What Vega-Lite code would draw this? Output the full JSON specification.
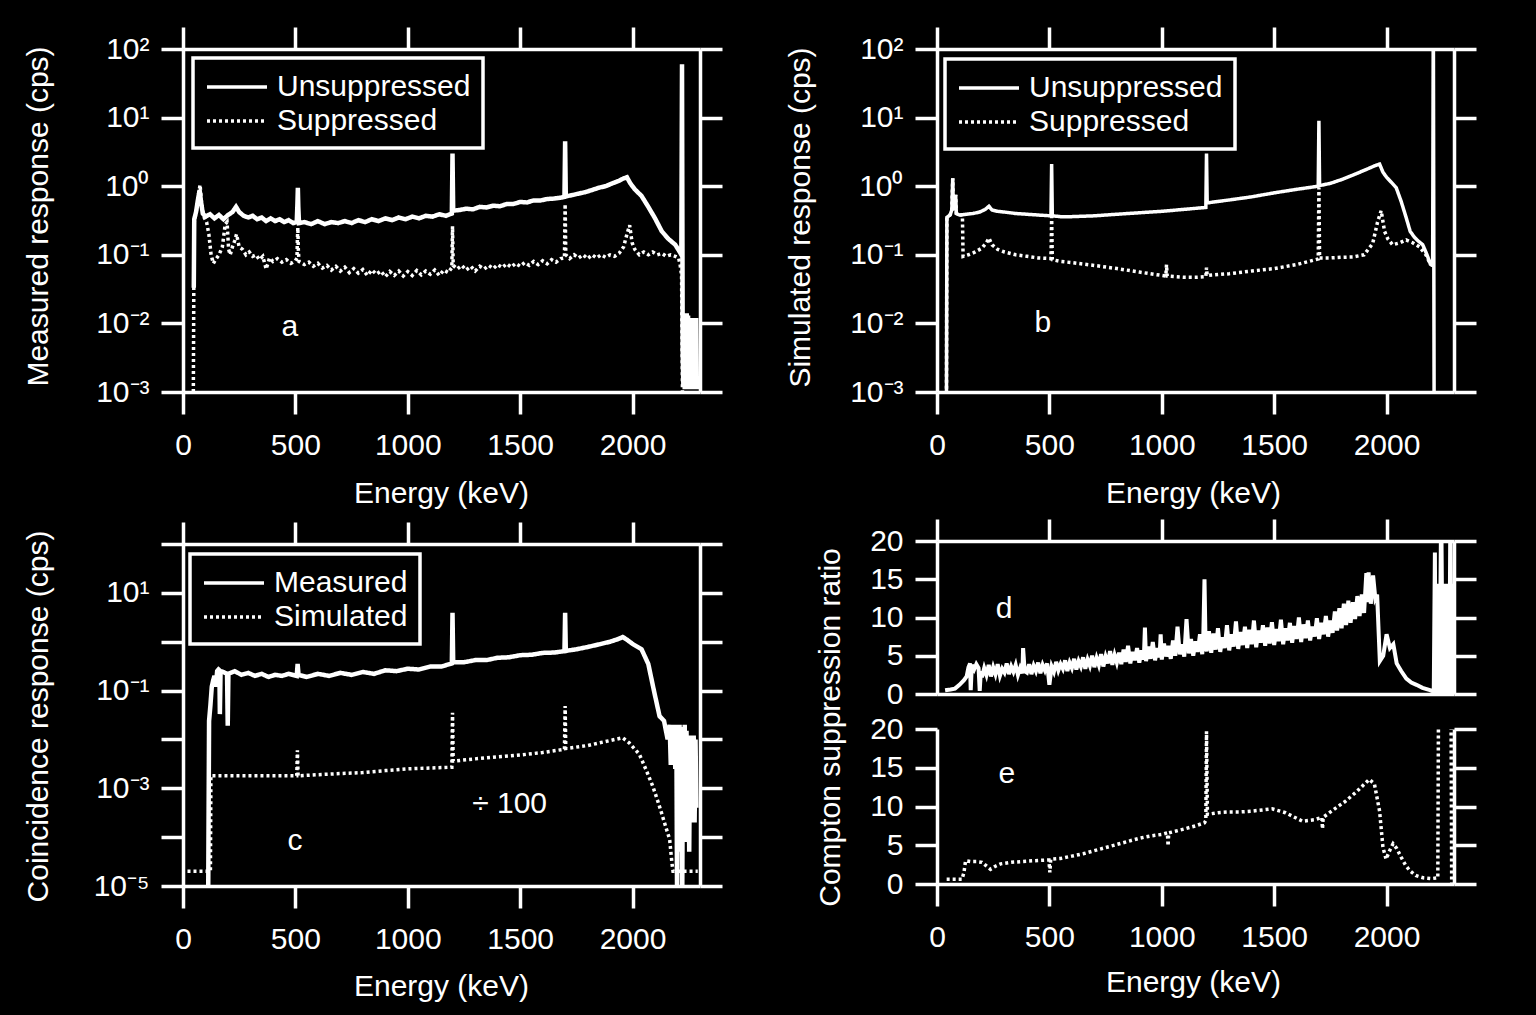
{
"$schema":"https://vega.github.io/schema/vega-lite/v6.json",
"background":"black",
"padding":{"left":23,"top":25,"right":58,"bottom":15},
"datasets":{
"aU":[{"E":48,"v":0.033},{"E":50,"v":0.33},{"E":58,"v":0.42},{"E":66,"v":0.62},{"E":74,"v":0.88},{"E":80,"v":0.6},{"E":88,"v":0.4},{"E":100,"v":0.36},{"E":120,"v":0.39},{"E":140,"v":0.34},{"E":160,"v":0.38},{"E":180,"v":0.33},{"E":200,"v":0.38},{"E":220,"v":0.42},{"E":236,"v":0.5},{"E":250,"v":0.42},{"E":270,"v":0.37},{"E":290,"v":0.35},{"E":310,"v":0.37},{"E":330,"v":0.33},{"E":350,"v":0.35},{"E":370,"v":0.31},{"E":390,"v":0.34},{"E":410,"v":0.31},{"E":430,"v":0.33},{"E":450,"v":0.3},{"E":470,"v":0.32},{"E":490,"v":0.29},{"E":506,"v":0.3},{"E":509,"v":0.55},{"E":511,"v":0.95},{"E":513,"v":0.5},{"E":516,"v":0.29},{"E":540,"v":0.3},{"E":570,"v":0.28},{"E":600,"v":0.31},{"E":630,"v":0.28},{"E":660,"v":0.3},{"E":690,"v":0.29},{"E":720,"v":0.31},{"E":750,"v":0.29},{"E":780,"v":0.32},{"E":810,"v":0.3},{"E":840,"v":0.33},{"E":870,"v":0.31},{"E":900,"v":0.34},{"E":930,"v":0.32},{"E":960,"v":0.35},{"E":990,"v":0.33},{"E":1020,"v":0.36},{"E":1050,"v":0.34},{"E":1080,"v":0.37},{"E":1110,"v":0.36},{"E":1140,"v":0.39},{"E":1170,"v":0.37},{"E":1196,"v":0.4},{"E":1199,"v":3.0},{"E":1202,"v":0.44},{"E":1230,"v":0.45},{"E":1260,"v":0.47},{"E":1290,"v":0.46},{"E":1320,"v":0.5},{"E":1350,"v":0.49},{"E":1380,"v":0.52},{"E":1410,"v":0.51},{"E":1440,"v":0.55},{"E":1470,"v":0.55},{"E":1500,"v":0.59},{"E":1530,"v":0.58},{"E":1560,"v":0.62},{"E":1590,"v":0.62},{"E":1620,"v":0.65},{"E":1650,"v":0.66},{"E":1680,"v":0.68},{"E":1697,"v":0.7},{"E":1700,"v":4.5},{"E":1703,"v":0.71},{"E":1730,"v":0.74},{"E":1760,"v":0.78},{"E":1790,"v":0.82},{"E":1820,"v":0.88},{"E":1850,"v":0.95},{"E":1880,"v":1.0},{"E":1910,"v":1.1},{"E":1940,"v":1.2},{"E":1960,"v":1.3},{"E":1975,"v":1.35},{"E":1990,"v":1.1},{"E":2010,"v":0.9},{"E":2040,"v":0.72},{"E":2070,"v":0.5},{"E":2100,"v":0.34},{"E":2130,"v":0.22},{"E":2160,"v":0.17},{"E":2190,"v":0.14},{"E":2210,"v":0.11},{"E":2217,"v":0.1},{"E":2220,"v":60},{"E":2223,"v":0.004},{"E":2226,"v":0.0012},{"E":2229,"v":0.006},{"E":2232,"v":0.0011},{"E":2235,"v":0.012},{"E":2238,"v":0.0012},{"E":2241,"v":0.014},{"E":2244,"v":0.0013},{"E":2247,"v":0.013},{"E":2250,"v":0.0011},{"E":2253,"v":0.012},{"E":2256,"v":0.0012},{"E":2259,"v":0.012},{"E":2262,"v":0.0011},{"E":2265,"v":0.012},{"E":2268,"v":0.0012},{"E":2271,"v":0.012},{"E":2274,"v":0.0011},{"E":2277,"v":0.012},{"E":2280,"v":0.0012},{"E":2283,"v":0.012},{"E":2286,"v":0.0011}],
"aS":[{"E":46,"v":0.001},{"E":48,"v":0.03},{"E":50,"v":0.3},{"E":60,"v":0.45},{"E":70,"v":0.8},{"E":76,"v":1.05},{"E":82,"v":0.6},{"E":92,"v":0.36},{"E":105,"v":0.3},{"E":115,"v":0.2},{"E":125,"v":0.1},{"E":135,"v":0.075},{"E":145,"v":0.085},{"E":160,"v":0.1},{"E":175,"v":0.13},{"E":188,"v":0.28},{"E":196,"v":0.3},{"E":203,"v":0.12},{"E":210,"v":0.1},{"E":220,"v":0.13},{"E":230,"v":0.16},{"E":238,"v":0.2},{"E":250,"v":0.13},{"E":265,"v":0.12},{"E":280,"v":0.1},{"E":295,"v":0.11},{"E":310,"v":0.095},{"E":325,"v":0.1},{"E":340,"v":0.085},{"E":355,"v":0.095},{"E":370,"v":0.062},{"E":385,"v":0.09},{"E":400,"v":0.08},{"E":420,"v":0.088},{"E":440,"v":0.078},{"E":460,"v":0.085},{"E":480,"v":0.075},{"E":500,"v":0.082},{"E":507,"v":0.09},{"E":509,"v":0.17},{"E":511,"v":0.25},{"E":513,"v":0.12},{"E":516,"v":0.08},{"E":540,"v":0.072},{"E":560,"v":0.078},{"E":580,"v":0.068},{"E":600,"v":0.075},{"E":620,"v":0.064},{"E":640,"v":0.07},{"E":660,"v":0.06},{"E":680,"v":0.068},{"E":700,"v":0.058},{"E":720,"v":0.066},{"E":740,"v":0.055},{"E":760,"v":0.063},{"E":780,"v":0.054},{"E":800,"v":0.061},{"E":820,"v":0.05},{"E":840,"v":0.06},{"E":860,"v":0.052},{"E":880,"v":0.058},{"E":900,"v":0.048},{"E":920,"v":0.057},{"E":940,"v":0.05},{"E":960,"v":0.058},{"E":980,"v":0.049},{"E":1000,"v":0.057},{"E":1020,"v":0.05},{"E":1040,"v":0.059},{"E":1060,"v":0.051},{"E":1080,"v":0.058},{"E":1100,"v":0.052},{"E":1120,"v":0.06},{"E":1140,"v":0.05},{"E":1160,"v":0.06},{"E":1180,"v":0.055},{"E":1196,"v":0.065},{"E":1199,"v":0.26},{"E":1202,"v":0.07},{"E":1220,"v":0.062},{"E":1240,"v":0.07},{"E":1260,"v":0.06},{"E":1280,"v":0.068},{"E":1300,"v":0.058},{"E":1320,"v":0.068},{"E":1340,"v":0.062},{"E":1360,"v":0.07},{"E":1380,"v":0.063},{"E":1400,"v":0.072},{"E":1420,"v":0.065},{"E":1440,"v":0.074},{"E":1460,"v":0.066},{"E":1480,"v":0.075},{"E":1500,"v":0.068},{"E":1520,"v":0.077},{"E":1540,"v":0.07},{"E":1560,"v":0.08},{"E":1580,"v":0.072},{"E":1600,"v":0.082},{"E":1620,"v":0.074},{"E":1640,"v":0.085},{"E":1660,"v":0.078},{"E":1680,"v":0.088},{"E":1697,"v":0.09},{"E":1700,"v":0.55},{"E":1703,"v":0.1},{"E":1720,"v":0.088},{"E":1740,"v":0.1},{"E":1760,"v":0.09},{"E":1780,"v":0.1},{"E":1800,"v":0.088},{"E":1820,"v":0.1},{"E":1840,"v":0.09},{"E":1860,"v":0.1},{"E":1880,"v":0.092},{"E":1900,"v":0.1},{"E":1920,"v":0.095},{"E":1940,"v":0.105},{"E":1960,"v":0.13},{"E":1975,"v":0.2},{"E":1987,"v":0.27},{"E":1998,"v":0.15},{"E":2010,"v":0.12},{"E":2030,"v":0.1},{"E":2050,"v":0.11},{"E":2070,"v":0.1},{"E":2090,"v":0.11},{"E":2110,"v":0.1},{"E":2130,"v":0.105},{"E":2150,"v":0.095},{"E":2170,"v":0.1},{"E":2190,"v":0.095},{"E":2205,"v":0.09},{"E":2212,"v":0.07},{"E":2218,"v":0.05},{"E":2222,"v":0.001}],
"bU":[{"E":42,"v":0.0005},{"E":44,"v":0.35},{"E":58,"v":0.38},{"E":66,"v":0.45},{"E":70,"v":1.3},{"E":73,"v":0.45},{"E":80,"v":0.5},{"E":83,"v":0.75},{"E":86,"v":0.4},{"E":100,"v":0.38},{"E":130,"v":0.39},{"E":160,"v":0.4},{"E":190,"v":0.42},{"E":215,"v":0.46},{"E":231,"v":0.51},{"E":245,"v":0.45},{"E":270,"v":0.43},{"E":300,"v":0.42},{"E":350,"v":0.4},{"E":400,"v":0.39},{"E":450,"v":0.38},{"E":507,"v":0.37},{"E":510,"v":2.1},{"E":513,"v":0.37},{"E":550,"v":0.36},{"E":600,"v":0.36},{"E":700,"v":0.37},{"E":800,"v":0.39},{"E":900,"v":0.41},{"E":1000,"v":0.43},{"E":1100,"v":0.46},{"E":1196,"v":0.49},{"E":1199,"v":3.0},{"E":1202,"v":0.57},{"E":1250,"v":0.6},{"E":1300,"v":0.63},{"E":1400,"v":0.7},{"E":1500,"v":0.8},{"E":1600,"v":0.9},{"E":1696,"v":1.0},{"E":1699,"v":9},{"E":1702,"v":1.02},{"E":1750,"v":1.1},{"E":1800,"v":1.25},{"E":1850,"v":1.45},{"E":1900,"v":1.7},{"E":1950,"v":2.0},{"E":1969,"v":2.1},{"E":1984,"v":1.6},{"E":2000,"v":1.35},{"E":2020,"v":1.15},{"E":2043,"v":0.95},{"E":2065,"v":0.6},{"E":2087,"v":0.35},{"E":2105,"v":0.22},{"E":2124,"v":0.18},{"E":2140,"v":0.16},{"E":2161,"v":0.14},{"E":2180,"v":0.1},{"E":2195,"v":0.073},{"E":2205,"v":0.07},{"E":2208,"v":500},{"E":2212,"v":0.0001}],
"bS":[{"E":42,"v":0.0005},{"E":44,"v":0.35},{"E":58,"v":0.38},{"E":66,"v":0.45},{"E":70,"v":1.3},{"E":73,"v":0.45},{"E":80,"v":0.5},{"E":83,"v":0.75},{"E":86,"v":0.4},{"E":100,"v":0.38},{"E":113,"v":0.38},{"E":116,"v":0.095},{"E":140,"v":0.1},{"E":170,"v":0.11},{"E":200,"v":0.125},{"E":220,"v":0.15},{"E":231,"v":0.175},{"E":245,"v":0.14},{"E":270,"v":0.12},{"E":300,"v":0.11},{"E":350,"v":0.1},{"E":400,"v":0.095},{"E":450,"v":0.09},{"E":507,"v":0.088},{"E":510,"v":0.36},{"E":513,"v":0.085},{"E":550,"v":0.08},{"E":600,"v":0.077},{"E":700,"v":0.07},{"E":800,"v":0.063},{"E":900,"v":0.056},{"E":1000,"v":0.05},{"E":1018,"v":0.049},{"E":1021,"v":0.072},{"E":1024,"v":0.049},{"E":1100,"v":0.047},{"E":1150,"v":0.047},{"E":1196,"v":0.048},{"E":1199,"v":0.065},{"E":1202,"v":0.05},{"E":1300,"v":0.053},{"E":1400,"v":0.058},{"E":1500,"v":0.063},{"E":1600,"v":0.072},{"E":1696,"v":0.087},{"E":1699,"v":0.95},{"E":1702,"v":0.09},{"E":1750,"v":0.09},{"E":1800,"v":0.092},{"E":1850,"v":0.093},{"E":1900,"v":0.1},{"E":1938,"v":0.145},{"E":1960,"v":0.3},{"E":1976,"v":0.44},{"E":1991,"v":0.22},{"E":2006,"v":0.17},{"E":2027,"v":0.14},{"E":2060,"v":0.15},{"E":2087,"v":0.165},{"E":2116,"v":0.15},{"E":2147,"v":0.13},{"E":2175,"v":0.1},{"E":2195,"v":0.073},{"E":2205,"v":0.07}],
"cM":[{"E":112,"v":0.000005},{"E":116,"v":0.024},{"E":122,"v":0.05},{"E":128,"v":0.12},{"E":134,"v":0.16},{"E":140,"v":0.2},{"E":146,"v":0.12},{"E":152,"v":0.25},{"E":158,"v":0.27},{"E":162,"v":0.26},{"E":164,"v":0.033},{"E":167,"v":0.25},{"E":180,"v":0.24},{"E":196,"v":0.22},{"E":199,"v":0.019},{"E":202,"v":0.22},{"E":230,"v":0.25},{"E":260,"v":0.21},{"E":290,"v":0.23},{"E":320,"v":0.2},{"E":350,"v":0.22},{"E":380,"v":0.19},{"E":410,"v":0.21},{"E":440,"v":0.2},{"E":470,"v":0.22},{"E":506,"v":0.2},{"E":510,"v":0.35},{"E":514,"v":0.21},{"E":550,"v":0.19},{"E":600,"v":0.22},{"E":650,"v":0.2},{"E":700,"v":0.23},{"E":750,"v":0.21},{"E":800,"v":0.24},{"E":850,"v":0.22},{"E":900,"v":0.26},{"E":950,"v":0.25},{"E":1000,"v":0.28},{"E":1050,"v":0.27},{"E":1100,"v":0.31},{"E":1150,"v":0.31},{"E":1196,"v":0.36},{"E":1199,"v":3.9},{"E":1202,"v":0.38},{"E":1250,"v":0.38},{"E":1300,"v":0.42},{"E":1350,"v":0.42},{"E":1400,"v":0.47},{"E":1450,"v":0.48},{"E":1500,"v":0.53},{"E":1550,"v":0.54},{"E":1600,"v":0.59},{"E":1650,"v":0.6},{"E":1697,"v":0.64},{"E":1700,"v":3.9},{"E":1703,"v":0.65},{"E":1750,"v":0.7},{"E":1800,"v":0.78},{"E":1850,"v":0.88},{"E":1900,"v":1.0},{"E":1940,"v":1.15},{"E":1956,"v":1.25},{"E":1975,"v":1.1},{"E":2000,"v":0.9},{"E":2040,"v":0.7},{"E":2070,"v":0.35},{"E":2095,"v":0.1},{"E":2120,"v":0.03},{"E":2140,"v":0.024},{"E":2156,"v":0.01},{"E":2165,"v":0.02},{"E":2170,"v":0.003},{"E":2175,"v":0.018},{"E":2180,"v":0.003},{"E":2185,"v":0.02},{"E":2190,"v":0.0025},{"E":2195,"v":0.015},{"E":2198,"v":0.000005},{"E":2201,"v":0.02},{"E":2205,"v":0.0001},{"E":2209,"v":0.02},{"E":2213,"v":0.00005},{"E":2217,"v":0.018},{"E":2221,"v":0.000005},{"E":2224,"v":0.015},{"E":2228,"v":0.0002},{"E":2232,"v":0.02},{"E":2236,"v":0.00008},{"E":2240,"v":0.015},{"E":2244,"v":0.0003},{"E":2248,"v":0.012},{"E":2252,"v":0.00005},{"E":2256,"v":0.012},{"E":2260,"v":0.0002},{"E":2264,"v":0.01},{"E":2268,"v":0.0003},{"E":2272,"v":0.012},{"E":2276,"v":0.0002},{"E":2280,"v":0.01},{"E":2284,"v":0.0004}],
"cS":[{"E":20,"v":0.00002},{"E":122,"v":0.00002},{"E":124,"v":0.0018},{"E":200,"v":0.0018},{"E":300,"v":0.0018},{"E":400,"v":0.0018},{"E":506,"v":0.0018},{"E":509,"v":0.006},{"E":512,"v":0.0018},{"E":600,"v":0.0019},{"E":700,"v":0.002},{"E":800,"v":0.0021},{"E":900,"v":0.0023},{"E":1000,"v":0.0025},{"E":1100,"v":0.0026},{"E":1196,"v":0.0027},{"E":1199,"v":0.035},{"E":1202,"v":0.0036},{"E":1300,"v":0.004},{"E":1400,"v":0.0044},{"E":1500,"v":0.0048},{"E":1600,"v":0.0054},{"E":1697,"v":0.0063},{"E":1700,"v":0.048},{"E":1703,"v":0.0065},{"E":1800,"v":0.0075},{"E":1900,"v":0.0095},{"E":1956,"v":0.0108},{"E":1985,"v":0.0085},{"E":2030,"v":0.005},{"E":2060,"v":0.0024},{"E":2090,"v":0.0011},{"E":2115,"v":0.0005},{"E":2130,"v":0.0003},{"E":2150,"v":0.00015},{"E":2165,"v":0.00009},{"E":2175,"v":0.00003},{"E":2180,"v":0.00002},{"E":2290,"v":0.00002}],
"d":[{"E":36,"v":0.5},{"E":60,"v":0.6},{"E":80,"v":0.7},{"E":100,"v":1.2},{"E":120,"v":1.8},{"E":132,"v":2.3},{"E":140,"v":3.5},{"E":147,"v":4.0},{"E":150,"v":0.5},{"E":155,"v":3.8},{"E":165,"v":3.2},{"E":175,"v":3.9},{"E":185,"v":3.4},{"E":190,"v":0.4},{"E":195,"v":3.0},{"E":200,"v":2.2},{"E":210,"v":3.4},{"E":220,"v":2.5},{"E":230,"v":3.8},{"E":240,"v":2.3},{"E":250,"v":3.5},{"E":260,"v":2.6},{"E":270,"v":3.9},{"E":280,"v":2.4},{"E":290,"v":3.3},{"E":300,"v":2.8},{"E":310,"v":4.0},{"E":320,"v":2.6},{"E":330,"v":3.6},{"E":340,"v":2.9},{"E":350,"v":3.8},{"E":360,"v":2.5},{"E":370,"v":3.4},{"E":380,"v":2.7},{"E":383,"v":6.0},{"E":390,"v":3.0},{"E":400,"v":2.8},{"E":410,"v":3.9},{"E":420,"v":2.6},{"E":430,"v":3.7},{"E":440,"v":3.0},{"E":450,"v":4.1},{"E":460,"v":2.7},{"E":470,"v":3.8},{"E":480,"v":3.1},{"E":490,"v":4.0},{"E":500,"v":1.2},{"E":510,"v":3.6},{"E":520,"v":2.9},{"E":530,"v":4.2},{"E":540,"v":3.1},{"E":550,"v":3.9},{"E":560,"v":3.3},{"E":570,"v":4.4},{"E":580,"v":3.0},{"E":590,"v":4.1},{"E":600,"v":3.4},{"E":610,"v":4.6},{"E":620,"v":3.2},{"E":630,"v":4.3},{"E":640,"v":3.6},{"E":650,"v":4.8},{"E":660,"v":3.3},{"E":670,"v":4.5},{"E":680,"v":3.7},{"E":690,"v":5.0},{"E":700,"v":3.5},{"E":710,"v":4.7},{"E":720,"v":3.8},{"E":730,"v":5.2},{"E":740,"v":3.6},{"E":750,"v":4.9},{"E":760,"v":4.0},{"E":770,"v":5.6},{"E":780,"v":3.8},{"E":790,"v":5.1},{"E":800,"v":4.1},{"E":810,"v":5.4},{"E":820,"v":3.9},{"E":830,"v":5.8},{"E":840,"v":4.2},{"E":850,"v":6.3},{"E":860,"v":4.0},{"E":870,"v":5.5},{"E":880,"v":4.4},{"E":890,"v":6.0},{"E":900,"v":4.1},{"E":910,"v":5.7},{"E":920,"v":4.5},{"E":925,"v":8.7},{"E":930,"v":4.3},{"E":940,"v":6.2},{"E":950,"v":4.6},{"E":960,"v":6.8},{"E":970,"v":4.4},{"E":980,"v":6.0},{"E":990,"v":4.8},{"E":995,"v":7.8},{"E":1000,"v":4.5},{"E":1010,"v":6.6},{"E":1020,"v":4.9},{"E":1030,"v":6.3},{"E":1040,"v":4.6},{"E":1050,"v":7.0},{"E":1060,"v":5.0},{"E":1070,"v":8.8},{"E":1080,"v":5.2},{"E":1090,"v":6.5},{"E":1100,"v":4.9},{"E":1110,"v":9.8},{"E":1120,"v":5.3},{"E":1130,"v":7.2},{"E":1140,"v":5.0},{"E":1150,"v":6.9},{"E":1160,"v":5.5},{"E":1170,"v":7.8},{"E":1180,"v":5.2},{"E":1185,"v":8.0},{"E":1190,"v":15.0},{"E":1195,"v":6.0},{"E":1200,"v":5.6},{"E":1210,"v":8.2},{"E":1220,"v":5.4},{"E":1230,"v":7.9},{"E":1240,"v":5.8},{"E":1250,"v":8.6},{"E":1260,"v":5.5},{"E":1270,"v":7.4},{"E":1280,"v":6.0},{"E":1290,"v":9.0},{"E":1300,"v":5.7},{"E":1310,"v":7.8},{"E":1320,"v":6.2},{"E":1330,"v":9.5},{"E":1340,"v":5.9},{"E":1350,"v":8.1},{"E":1360,"v":6.4},{"E":1370,"v":8.8},{"E":1380,"v":6.0},{"E":1390,"v":8.4},{"E":1400,"v":6.5},{"E":1410,"v":9.6},{"E":1420,"v":6.1},{"E":1430,"v":8.3},{"E":1440,"v":6.7},{"E":1450,"v":9.0},{"E":1460,"v":6.3},{"E":1470,"v":8.7},{"E":1480,"v":6.6},{"E":1490,"v":9.4},{"E":1500,"v":6.4},{"E":1510,"v":8.5},{"E":1520,"v":6.9},{"E":1530,"v":9.7},{"E":1540,"v":6.5},{"E":1550,"v":8.6},{"E":1560,"v":7.0},{"E":1570,"v":9.3},{"E":1580,"v":6.7},{"E":1590,"v":8.9},{"E":1600,"v":7.2},{"E":1610,"v":10.0},{"E":1620,"v":6.8},{"E":1630,"v":9.1},{"E":1640,"v":7.3},{"E":1650,"v":9.6},{"E":1660,"v":7.0},{"E":1670,"v":8.8},{"E":1680,"v":7.5},{"E":1690,"v":9.9},{"E":1700,"v":7.2},{"E":1710,"v":9.3},{"E":1720,"v":7.8},{"E":1730,"v":10.2},{"E":1740,"v":7.5},{"E":1750,"v":9.6},{"E":1760,"v":8.0},{"E":1770,"v":10.8},{"E":1780,"v":8.3},{"E":1790,"v":11.2},{"E":1800,"v":8.6},{"E":1810,"v":11.8},{"E":1820,"v":9.0},{"E":1830,"v":12.2},{"E":1840,"v":9.3},{"E":1850,"v":12.0},{"E":1860,"v":9.8},{"E":1870,"v":12.8},{"E":1880,"v":10.2},{"E":1890,"v":13.0},{"E":1900,"v":10.6},{"E":1910,"v":15.8},{"E":1915,"v":12.0},{"E":1920,"v":15.9},{"E":1930,"v":11.8},{"E":1940,"v":15.5},{"E":1950,"v":12.5},{"E":1958,"v":13.0},{"E":1970,"v":4.3},{"E":1985,"v":5.0},{"E":2000,"v":7.8},{"E":2015,"v":6.0},{"E":2030,"v":6.5},{"E":2045,"v":4.0},{"E":2065,"v":3.0},{"E":2088,"v":2.0},{"E":2110,"v":1.5},{"E":2133,"v":1.2},{"E":2160,"v":0.8},{"E":2193,"v":0.5},{"E":2210,"v":0.3},{"E":2215,"v":18.5},{"E":2218,"v":0.2},{"E":2222,"v":14.4},{"E":2225,"v":0.1},{"E":2228,"v":14.4},{"E":2231,"v":0.1},{"E":2234,"v":14.4},{"E":2237,"v":0.1},{"E":2240,"v":14.4},{"E":2243,"v":25},{"E":2246,"v":14.4},{"E":2249,"v":0.1},{"E":2252,"v":14.4},{"E":2255,"v":0.1},{"E":2258,"v":14.4},{"E":2261,"v":0.1},{"E":2264,"v":14.4},{"E":2267,"v":0.1},{"E":2270,"v":14.4},{"E":2273,"v":0.1},{"E":2276,"v":14.4},{"E":2279,"v":0.1},{"E":2282,"v":14.4},{"E":2284,"v":25},{"E":2286,"v":14.4},{"E":2289,"v":0.1},{"E":2292,"v":14.4},{"E":2295,"v":0.1}],
"e":[{"E":43,"v":0.6},{"E":80,"v":0.6},{"E":111,"v":0.6},{"E":120,"v":1.5},{"E":127,"v":3.0},{"E":150,"v":2.9},{"E":175,"v":2.9},{"E":200,"v":2.8},{"E":238,"v":1.9},{"E":260,"v":2.3},{"E":283,"v":2.6},{"E":330,"v":2.8},{"E":380,"v":2.9},{"E":430,"v":3.0},{"E":498,"v":3.1},{"E":502,"v":1.5},{"E":506,"v":3.2},{"E":550,"v":3.3},{"E":600,"v":3.6},{"E":650,"v":3.9},{"E":700,"v":4.3},{"E":750,"v":4.7},{"E":800,"v":5.1},{"E":850,"v":5.5},{"E":900,"v":5.9},{"E":950,"v":6.2},{"E":1000,"v":6.4},{"E":1025,"v":6.6},{"E":1028,"v":4.9},{"E":1031,"v":6.6},{"E":1060,"v":6.8},{"E":1100,"v":7.1},{"E":1150,"v":7.5},{"E":1190,"v":7.9},{"E":1196,"v":8.2},{"E":1199,"v":19.7},{"E":1203,"v":9.0},{"E":1250,"v":9.2},{"E":1300,"v":9.3},{"E":1350,"v":9.3},{"E":1400,"v":9.4},{"E":1491,"v":9.7},{"E":1550,"v":9.2},{"E":1626,"v":8.1},{"E":1680,"v":8.3},{"E":1712,"v":8.6},{"E":1715,"v":7.1},{"E":1718,"v":8.6},{"E":1760,"v":9.5},{"E":1818,"v":10.7},{"E":1870,"v":12.0},{"E":1923,"v":13.5},{"E":1946,"v":12.9},{"E":1969,"v":9.4},{"E":1984,"v":4.7},{"E":1998,"v":3.2},{"E":2012,"v":4.2},{"E":2029,"v":5.2},{"E":2045,"v":4.6},{"E":2066,"v":3.4},{"E":2085,"v":2.4},{"E":2104,"v":1.7},{"E":2130,"v":1.1},{"E":2163,"v":0.8},{"E":2200,"v":0.7},{"E":2228,"v":0.8},{"E":2232,"v":30},{"E":2286,"v":30},{"E":2290,"v":-2}]
},
"resolve":{"scale":{"strokeDash":"independent"}},
"spacing":61,
"hconcat":[
{"vconcat":[
{"width":517,"height":343,
"layer":[
{"data":{"name":"aU"},"mark":{"type":"line","clip":true,"color":"white","strokeWidth":4.5},
"encoding":{
"x":{"field":"E","type":"quantitative","scale":{"domain":[0,2300]},"axis":{"orient":"bottom","values":[0,500,1000,1500,2000],"format":"d","title":"Energy (keV)","titleX":258,"titleY":101}},
"y":{"field":"v","type":"quantitative","scale":{"type":"log","domain":[0.001,100]},"axis":{"orient":"left","values":[0.001,0.01,0.1,1,10,100],"labelExpr":"datum.value > 50 ? '10²' : datum.value > 5 ? '10¹' : datum.value > 0.5 ? '10⁰' : datum.value > 0.05 ? '10⁻¹' : datum.value > 0.005 ? '10⁻²' : '10⁻³'","title":"Measured response (cps)","titleX":-145,"titleY":167}},
"strokeDash":{"datum":"Unsuppressed","type":"nominal","scale":{"domain":["Unsuppressed","Suppressed"],"range":[[1,0],[3,3]]},"legend":{"orient":"none","legendX":10,"legendY":9,"title":null}}}},
{"data":{"name":"aS"},"mark":{"type":"line","clip":true,"color":"white","strokeWidth":3.5},
"encoding":{"x":{"field":"E","type":"quantitative","scale":{"domain":[0,2300]},"axis":null},"y":{"field":"v","type":"quantitative","scale":{"type":"log","domain":[0.001,100]},"axis":null},"strokeDash":{"datum":"Suppressed","type":"nominal"}}},
{"data":{"values":[{"E":475,"v":0.009,"t":"a"}]},"mark":{"type":"text"},
"encoding":{"x":{"field":"E","type":"quantitative","scale":{"domain":[0,2300]},"axis":{"orient":"top","values":[0,500,1000,1500,2000],"labels":false,"title":null}},"y":{"field":"v","type":"quantitative","scale":{"type":"log","domain":[0.001,100]},"axis":{"orient":"right","values":[0.001,0.01,0.1,1,10,100],"labels":false,"title":null}},"text":{"field":"t"}}}
],
"resolve":{"axis":{"x":"independent","y":"independent"}}},
{"width":517,"height":342,
"layer":[
{"data":{"name":"cM"},"mark":{"type":"line","clip":true,"color":"white","strokeWidth":4.5},
"encoding":{
"x":{"field":"E","type":"quantitative","scale":{"domain":[0,2300]},"axis":{"orient":"bottom","values":[0,500,1000,1500,2000],"format":"d","title":"Energy (keV)","titleX":258,"titleY":100}},
"y":{"field":"v","type":"quantitative","scale":{"type":"log","domain":[0.00001,100]},"axis":{"orient":"left","values":[0.00001,0.0001,0.001,0.01,0.1,1,10,100],"labelExpr":"datum.value > 5 && datum.value < 50 ? '10¹' : datum.value > 0.05 && datum.value < 0.5 ? '10⁻¹' : datum.value > 0.0005 && datum.value < 0.005 ? '10⁻³' : datum.value < 0.00005 ? '10⁻⁵' : ''","title":"Coincidence response (cps)","titleX":-145,"titleY":172}},
"strokeDash":{"datum":"Measured","type":"nominal","scale":{"domain":["Measured","Simulated"],"range":[[1,0],[3,3]]},"legend":{"orient":"none","legendX":7,"legendY":10,"title":null}}}},
{"data":{"name":"cS"},"mark":{"type":"line","clip":true,"color":"white","strokeWidth":3.5},
"encoding":{"x":{"field":"E","type":"quantitative","scale":{"domain":[0,2300]},"axis":null},"y":{"field":"v","type":"quantitative","scale":{"type":"log","domain":[0.00001,100]},"axis":null},"strokeDash":{"datum":"Simulated","type":"nominal"}}},
{"data":{"values":[{"E":498,"v":0.000083,"t":"c"},{"E":1453,"v":0.00048,"t":"÷ 100"}]},"mark":{"type":"text"},
"encoding":{"x":{"field":"E","type":"quantitative","scale":{"domain":[0,2300]},"axis":{"orient":"top","values":[0,500,1000,1500,2000],"labels":false,"title":null}},"y":{"field":"v","type":"quantitative","scale":{"type":"log","domain":[0.00001,100]},"axis":{"orient":"right","values":[0.00001,0.0001,0.001,0.01,0.1,1,10,100],"labels":false,"title":null}},"text":{"field":"t"}}}
],
"resolve":{"axis":{"x":"independent","y":"independent"}}}
],"spacing":12,"resolve":{"scale":{"strokeDash":"independent"}}},
{"vconcat":[
{"width":517,"height":343,
"layer":[
{"data":{"name":"bU"},"mark":{"type":"line","clip":true,"color":"white","strokeWidth":3.5},
"encoding":{
"x":{"field":"E","type":"quantitative","scale":{"domain":[0,2300]},"axis":{"orient":"bottom","values":[0,500,1000,1500,2000],"format":"d","title":"Energy (keV)","titleX":256,"titleY":101}},
"y":{"field":"v","type":"quantitative","scale":{"type":"log","domain":[0.001,100]},"axis":{"orient":"left","values":[0.001,0.01,0.1,1,10,100],"labelExpr":"datum.value > 50 ? '10²' : datum.value > 5 ? '10¹' : datum.value > 0.5 ? '10⁰' : datum.value > 0.05 ? '10⁻¹' : datum.value > 0.005 ? '10⁻²' : '10⁻³'","title":"Simulated response (cps)","titleX":-137,"titleY":168}},
"strokeDash":{"datum":"Unsuppressed","type":"nominal","scale":{"domain":["Unsuppressed","Suppressed"],"range":[[1,0],[3,3]]},"legend":{"orient":"none","legendX":8,"legendY":10,"title":null}}}},
{"data":{"name":"bS"},"mark":{"type":"line","clip":true,"color":"white","strokeWidth":3.5},
"encoding":{"x":{"field":"E","type":"quantitative","scale":{"domain":[0,2300]},"axis":null},"y":{"field":"v","type":"quantitative","scale":{"type":"log","domain":[0.001,100]},"axis":null},"strokeDash":{"datum":"Suppressed","type":"nominal"}}},
{"data":{"values":[{"E":471,"v":0.01,"t":"b"}]},"mark":{"type":"text"},
"encoding":{"x":{"field":"E","type":"quantitative","scale":{"domain":[0,2300]},"axis":{"orient":"top","values":[0,500,1000,1500,2000],"labels":false,"title":null}},"y":{"field":"v","type":"quantitative","scale":{"type":"log","domain":[0.001,100]},"axis":{"orient":"right","values":[0.001,0.01,0.1,1,10,100],"labels":false,"title":null}},"text":{"field":"t"}}}
],
"resolve":{"axis":{"x":"independent","y":"independent"}}},
{"vconcat":[
{"width":517,"height":153,
"layer":[
{"data":{"name":"d"},"mark":{"type":"line","clip":true,"color":"white","strokeWidth":4},
"encoding":{
"x":{"field":"E","type":"quantitative","scale":{"domain":[0,2300]},"axis":{"orient":"bottom","ticks":false,"labels":false,"title":null}},
"y":{"field":"v","type":"quantitative","scale":{"domain":[0,20]},"axis":{"orient":"left","values":[0,5,10,15,20],"title":null}}}},
{"data":{"values":[{"E":298,"v":11.1,"t":"d"}]},"mark":{"type":"text"},
"encoding":{"x":{"field":"E","type":"quantitative","scale":{"domain":[0,2300]},"axis":{"orient":"top","values":[0,500,1000,1500,2000],"labels":false,"title":null}},"y":{"field":"v","type":"quantitative","scale":{"domain":[0,20]},"axis":{"orient":"right","values":[0,5,10,15,20],"labels":false,"title":null}},"text":{"field":"t"}}}
],
"resolve":{"axis":{"x":"independent","y":"independent"}}},
{"width":517,"height":155,
"layer":[
{"data":{"name":"e"},"mark":{"type":"line","clip":true,"color":"white","strokeWidth":3.5,"strokeDash":[3,3]},
"encoding":{
"x":{"field":"E","type":"quantitative","scale":{"domain":[0,2300]},"axis":{"orient":"bottom","values":[0,500,1000,1500,2000],"format":"d","title":"Energy (keV)","titleX":256,"titleY":98}},
"y":{"field":"v","type":"quantitative","scale":{"domain":[0,20]},"axis":{"orient":"left","values":[0,5,10,15,20],"title":"Compton suppression ratio","titleX":-107,"titleY":-2}}}},
{"data":{"values":[{"E":311,"v":14.2,"t":"e"}]},"mark":{"type":"text"},
"encoding":{"x":{"field":"E","type":"quantitative","scale":{"domain":[0,2300]},"axis":null},"y":{"field":"v","type":"quantitative","scale":{"domain":[0,20]},"axis":{"orient":"right","values":[0,5,10,15,20],"labels":false,"title":null}},"text":{"field":"t"}}}
],
"resolve":{"axis":{"x":"independent","y":"independent"}}}
],"spacing":35,"bounds":"flush"}
],"spacing":9,"resolve":{"scale":{"strokeDash":"independent"}}}
],
"config":{
"view":{"stroke":null},
"mark":{"color":"white"},
"text":{"font":"Liberation Sans","fontSize":30,"color":"white","align":"center","baseline":"middle"},
"axis":{"domainColor":"white","domainWidth":3.5,"tickColor":"white","tickWidth":3.5,"tickSize":22,"labelColor":"white","labelFont":"Liberation Sans","labelFontSize":30,"titleColor":"white","titleFont":"Liberation Sans","titleFontSize":30,"titleFontWeight":"normal","grid":false,"labelOverlap":false,"labelFlush":false,"labelBound":false},
"axisLeft":{"labelPadding":12,"titleAngle":270,"titleAlign":"center","titleBaseline":"middle"},
"axisBottom":{"labelPadding":16,"titleAngle":0,"titleAlign":"center","titleBaseline":"middle"},
"legend":{"symbolType":"M-1,0H3","symbolSize":900,"symbolStrokeWidth":3.5,"symbolStrokeColor":"white","labelColor":"white","labelFont":"Liberation Sans","labelFontSize":30,"labelLimit":400,"labelOffset":38,"rowPadding":2,"padding":12,"strokeColor":"white","strokeWidth":3.5,"fillColor":"black"}
}
}
